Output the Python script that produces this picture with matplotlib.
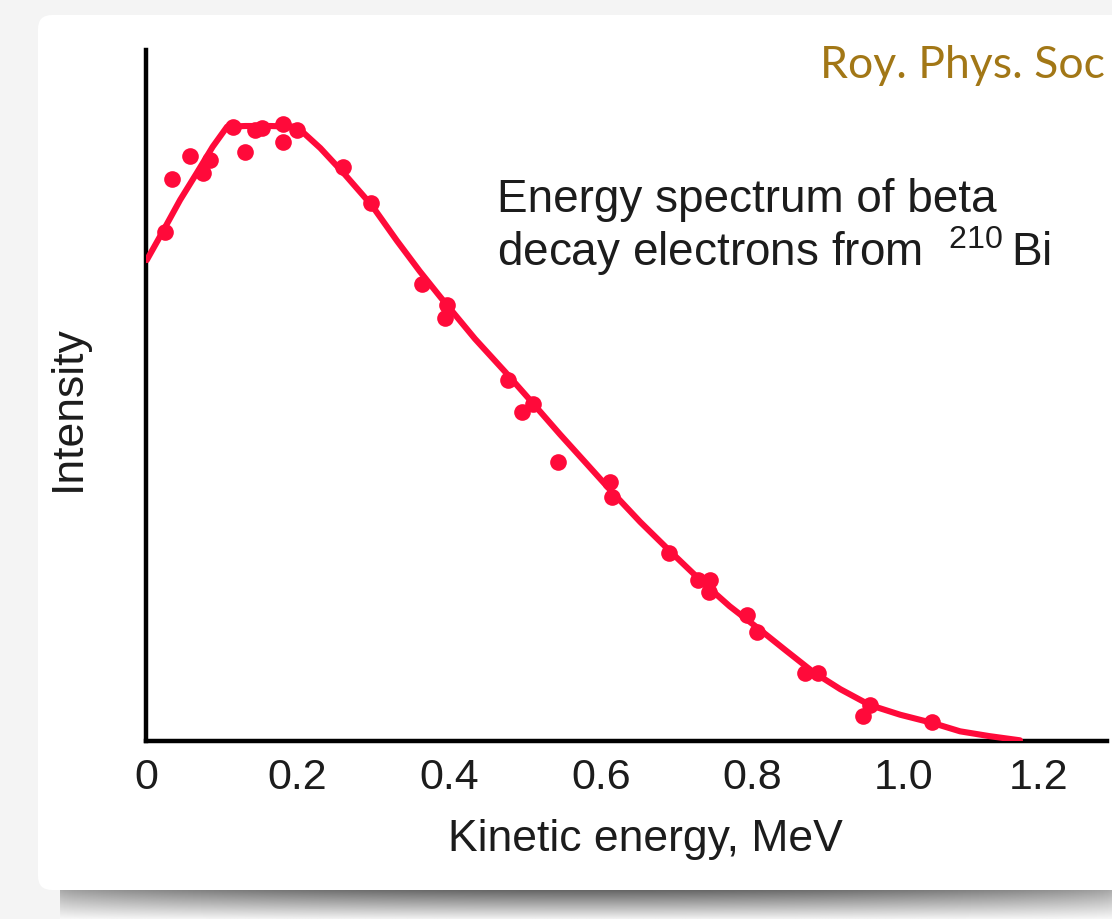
import numpy as np
import matplotlib
matplotlib.use("Agg")
import matplotlib.pyplot as plt
from matplotlib.patches import FancyBboxPatch

plt.rcParams['font.family'] = ['Liberation Sans', 'DejaVu Sans']
plt.rcParams['mathtext.default'] = 'regular'

# measured spectrum (kinetic energy in MeV, intensity in arbitrary units)
energy_pts = [0.025, 0.034, 0.058, 0.075, 0.084, 0.115, 0.131, 0.144, 0.153, 0.181,
              0.181, 0.199, 0.260, 0.297, 0.364, 0.397, 0.394, 0.477, 0.510, 0.496,
              0.544, 0.612, 0.615, 0.690, 0.728, 0.744, 0.743, 0.793, 0.806, 0.869,
              0.887, 0.955, 0.946, 1.037]
intensity_pts = [73.7, 81.3, 84.7, 82.2, 84.1, 88.9, 85.2, 88.4, 88.7, 89.3,
                 86.7, 88.4, 83.1, 77.9, 66.1, 63.1, 61.2, 52.2, 48.8, 47.6,
                 40.4, 37.5, 35.3, 27.2, 23.3, 23.3, 21.6, 18.2, 15.8, 9.8,
                 9.8, 5.2, 3.6, 2.7]

# fitted curve
energy_fit = [0.001, 0.022, 0.045, 0.067, 0.088, 0.107, 0.131, 0.164, 0.199, 0.230,
              0.263, 0.298, 0.331, 0.361, 0.388, 0.434, 0.474, 0.507, 0.546, 0.579,
              0.616, 0.652, 0.691, 0.731, 0.770, 0.810, 0.843, 0.880, 0.916, 0.955,
              0.995, 1.038, 1.074, 1.113, 1.153]
intensity_fit = [69.6, 73.7, 78.3, 82.2, 86.0, 88.9, 89.0, 89.0, 88.9, 85.8,
                 81.9, 77.5, 72.4, 68.0, 64.3, 58.2, 53.4, 49.3, 44.4, 40.4,
                 35.9, 31.7, 27.5, 23.3, 19.5, 16.1, 13.2, 10.0, 7.5, 5.2,
                 3.8, 2.6, 1.4, 0.7, 0.1]

tick_pos = [0, 0.2, 0.4, 0.6, 0.8, 1.0, 1.177]
tick_labels = ['0', '0.2', '0.4', '0.6', '0.8', '1.0', '1.2']

W, H = 1112, 919
fig = plt.figure(figsize=(W / 100, H / 100), dpi=100)
fig.patch.set_facecolor('#f4f4f4')

# paper card + shadow underneath
bg = fig.add_axes([0, 0, 1, 1], zorder=-10)
bg.set_xlim(0, W)
bg.set_ylim(H, 0)
bg.axis('off')
xs = np.linspace(0, 1, 400)
ys = np.linspace(0, 1, 30)
horiz = 0.55 + 0.45 * np.sin(np.pi * xs) ** 0.6
vert = np.clip(1.0 - ys * 0.9, 0, 1)
shade = 1.0 - 0.62 * np.outer(vert, horiz)
bg.imshow(shade, cmap='gray', vmin=0, vmax=1, extent=[60, W, 919, 889],
          aspect='auto', interpolation='bilinear')
card = FancyBboxPatch((38, 15), W, 875, boxstyle='round,pad=0,rounding_size=14',
                      facecolor='white', edgecolor='none')
bg.add_patch(card)

ax = fig.add_axes([146 / W, 1 - 741 / H, (1107 - 146) / W, (741 - 50) / H])
ax.set_facecolor('none')
ax.plot(energy_fit, intensity_fit, color='#ff0a3a', lw=4.4, solid_capstyle='round',
        solid_joinstyle='round', zorder=3)
ax.plot(energy_pts, intensity_pts, 'o', color='#ff0a3a', ms=12, mew=0, zorder=4)

ax.set_xlim(0, (1107 - 146) / 758)
ax.set_ylim(0, 100)
for s in ['top', 'right']:
    ax.spines[s].set_visible(False)
for s in ['left', 'bottom']:
    ax.spines[s].set_linewidth(3.2)
    ax.spines[s].set_color('black')
    ax.spines[s].set_zorder(2)
ax.set_yticks([])
ax.set_xticks(tick_pos)
ax.set_xticklabels(tick_labels)
ax.tick_params(axis='x', length=0, pad=12, labelsize=31, colors='#1c1c1c')

txt = '#1c1c1c'
fig.text(645 / W, 1 - 851 / H, 'Kinetic energy, MeV', ha='center', va='baseline',
         fontsize=32, color=txt)
fig.text(68 / W, 1 - 408 / H, 'Intensity', ha='center', va='center', rotation=90,
         fontsize=32, color=txt)
fig.text(497 / W, 1 - 212 / H, 'Energy spectrum of beta', ha='left', va='baseline',
         fontsize=33, color=txt)
fig.text(497 / W, 1 - 266 / H, r'decay electrons from  $^{210}\,$Bi', ha='left',
         va='baseline', fontsize=33, color=txt)
fig.text(820 / W, 1 - 78 / H, 'Roy. Phys. Soc', ha='left', va='baseline',
         fontsize=32, color='#a27716', family=['Lato', 'DejaVu Sans'])

fig.savefig('out.png', dpi=100)
